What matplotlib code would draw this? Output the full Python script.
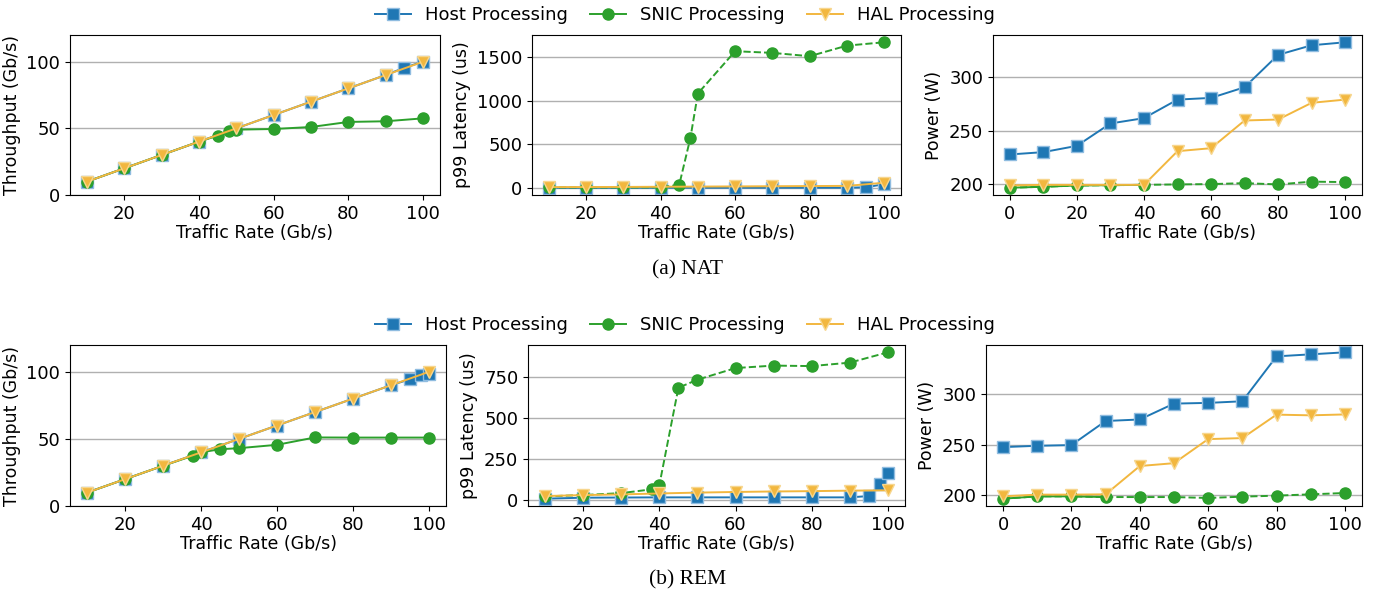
import numpy as np
import matplotlib
matplotlib.use("Agg")
import matplotlib.pyplot as plt

plt.rcParams['font.size'] = 12.5

blue = '#1f77b4'
green = '#2ca02c'
yellow = '#f2b73f'

# ---- NAT ----
nat_tp_host_x = [10, 20, 30, 40, 50, 60, 70, 80, 90, 95, 100]
nat_tp_host_y = [10, 20, 30, 40, 50, 60, 70, 80, 90, 95.5, 100]
nat_tp_snic_x = [10, 20, 30, 40, 45, 48, 50, 60, 70, 80, 90, 100]
nat_tp_snic_y = [10, 20, 30, 40, 44.5, 47.7, 49, 49.5, 51, 54.8, 55.3, 57.5]
nat_tp_hal_x = [10, 20, 30, 40, 50, 60, 70, 80, 90, 100]
nat_tp_hal_y = [10, 20, 30, 40, 50, 60, 70, 80, 90, 100]

nat_lat_host_x = [10, 20, 30, 40, 50, 60, 70, 80, 90, 95, 100]
nat_lat_host_y = [5, 5, 5, 5, 5, 5, 5, 5, 5, 10, 45]
nat_lat_snic_x = [10, 20, 30, 40, 45, 48, 50, 60, 70, 80, 90, 100]
nat_lat_snic_y = [8, 8, 8, 10, 38, 574, 1080, 1563, 1544, 1506, 1627, 1665]
nat_lat_hal_x = [10, 20, 30, 40, 50, 60, 70, 80, 90, 100]
nat_lat_hal_y = [12, 13, 14, 16, 18, 20, 22, 24, 26, 62]

nat_pw_x = [0, 10, 20, 30, 40, 50, 60, 70, 80, 90, 100]
nat_pw_host = [227.5, 229.7, 235.6, 256.6, 261.6, 279, 280.6, 290.6, 321, 330, 332.8]
nat_pw_snic = [196.3, 197.2, 198.4, 198.7, 199, 199.4, 199.7, 200.6, 199.4, 202, 201.6]
nat_pw_hal = [198.5, 199, 199, 199, 199, 230.6, 233.4, 259.4, 260.3, 276, 279]
nat_pw_split = 5  # SNIC solid up to here

# ---- REM ----
rem_tp_host_x = [10, 20, 30, 40, 50, 60, 70, 80, 90, 95, 98, 100]
rem_tp_host_y = [10, 20, 30, 40, 50, 60, 70, 80, 90, 94.5, 97.7, 98.7]
rem_tp_snic_x = [10, 20, 30, 38, 40, 45, 50, 60, 70, 80, 90, 100]
rem_tp_snic_y = [10, 20, 30, 37.6, 40, 42.3, 43.1, 45.6, 51.1, 51, 51, 51]
rem_tp_hal_x = [10, 20, 30, 40, 50, 60, 70, 80, 90, 100]
rem_tp_hal_y = [10, 20, 30, 40, 50, 60, 70, 80, 90, 100]

rem_lat_host_x = [10, 20, 30, 40, 50, 60, 70, 80, 90, 95, 98, 100]
rem_lat_host_y = [6, 12, 13, 14, 14, 14, 14, 14, 14, 22, 94, 165]
rem_lat_snic_x = [10, 20, 30, 38, 40, 45, 50, 60, 70, 80, 90, 100]
rem_lat_snic_y = [20, 28, 40, 63, 90, 683, 732, 803, 818, 815, 836, 899]
rem_lat_hal_x = [10, 20, 30, 40, 50, 60, 70, 80, 90, 100]
rem_lat_hal_y = [22, 28, 32, 38, 43, 47, 50, 52, 55, 57]

rem_pw_x = [0, 10, 20, 30, 40, 50, 60, 70, 80, 90, 100]
rem_pw_host = [247.7, 249, 249.7, 273.5, 275, 290.7, 291.4, 293, 337.4, 339.4, 341.4]
rem_pw_snic = [196.7, 199, 199, 198.3, 198.3, 198.3, 197.4, 198.7, 199.7, 201, 202.3]
rem_pw_hal = [199, 200.7, 200.7, 201, 229, 231.8, 255.6, 256.6, 279.8, 279.1, 280]
rem_pw_split = 4

fig = plt.figure(figsize=(13.85, 5.98), dpi=100)
W, H = 1385.0, 598.0


def make_ax(l, r, t, b):
    return fig.add_axes([l / W, 1 - b / H, (r - l) / W, (b - t) / H])


ms = 8
kw = dict(markersize=ms, markeredgewidth=1.0, linewidth=1.4)


def style(ax):
    ax.yaxis.grid(True, color='#b0b0b0', linewidth=1.0)
    ax.set_axisbelow(True)
    ax.set_xlabel('Traffic Rate (Gb/s)', labelpad=1)
    ax.tick_params(labelsize=13)


def row(top, bottom, lefts, tp, lat, pw, lat_ticks, split):
    # throughput
    ax = make_ax(lefts[0][0], lefts[0][1], top, bottom)
    ax.plot(tp[0], tp[1], color=blue, marker='s', markeredgecolor='#8fbce0', **kw)
    ax.plot(tp[2], tp[3], color=green, marker='o', markeredgecolor=green, **kw)
    ax.plot(tp[4], tp[5], color=yellow, marker='v', markeredgecolor='#f7d68e', **kw)
    ax.set_ylim(0, 120)
    ax.set_yticks([0, 50, 100])
    ax.set_xticks([20, 40, 60, 80, 100])
    ax.set_ylabel('Throughput (Gb/s)')
    style(ax)
    # latency
    ax = make_ax(lefts[1][0], lefts[1][1], top, bottom)
    ax.plot(lat[0], lat[1], color=blue, marker='s', markeredgecolor='#8fbce0', **kw)
    ax.plot(lat[2], lat[3], color=green, marker='o', linestyle='--', markeredgecolor=green, **kw)
    ax.plot(lat[4], lat[5], color=yellow, marker='v', markeredgecolor='#f7d68e', **kw)
    ax.set_yticks(lat_ticks)
    ax.set_xticks([20, 40, 60, 80, 100])
    ax.set_ylabel('p99 Latency (us)')
    style(ax)
    # power
    ax = make_ax(lefts[2][0], lefts[2][1], top, bottom)
    ax.plot(pw[0], pw[1], color=blue, marker='s', markeredgecolor='#8fbce0', label='Host Processing', **kw)
    ax.plot(pw[0], pw[2], color=green, marker='o', linestyle='--', markeredgecolor=green, label='SNIC Processing', **kw)
    ax.plot(pw[0][:split], pw[2][:split], color=green, linewidth=1.4)
    ax.plot(pw[0], pw[3], color=yellow, marker='v', markeredgecolor='#f7d68e', label='HAL Processing', **kw)
    ax.set_yticks([200, 250, 300])
    ax.set_xticks([0, 20, 40, 60, 80, 100])
    ax.set_ylabel('Power (W)')
    style(ax)
    h, l = ax.get_legend_handles_labels()
    h = [h[0], h[1], h[2]]
    h[1] = plt.Line2D([], [], color=green, marker='o', markersize=ms, linewidth=1.4)
    fig.legend(h, l, loc='center', bbox_to_anchor=(685 / W, 1 - (top - 20) / H),
               ncol=3, frameon=False, fontsize=13, columnspacing=1.2, handlelength=2.0)


row(35, 195, [(70, 440), (532, 901), (993, 1362)],
    (nat_tp_host_x, nat_tp_host_y, nat_tp_snic_x, nat_tp_snic_y, nat_tp_hal_x, nat_tp_hal_y),
    (nat_lat_host_x, nat_lat_host_y, nat_lat_snic_x, nat_lat_snic_y, nat_lat_hal_x, nat_lat_hal_y),
    (nat_pw_x, nat_pw_host, nat_pw_snic, nat_pw_hal), [0, 500, 1000, 1500], nat_pw_split)

row(345, 506, [(70, 446), (528, 905), (986, 1362)],
    (rem_tp_host_x, rem_tp_host_y, rem_tp_snic_x, rem_tp_snic_y, rem_tp_hal_x, rem_tp_hal_y),
    (rem_lat_host_x, rem_lat_host_y, rem_lat_snic_x, rem_lat_snic_y, rem_lat_hal_x, rem_lat_hal_y),
    (rem_pw_x, rem_pw_host, rem_pw_snic, rem_pw_hal), [0, 250, 500, 750], rem_pw_split)

fig.text(688 / W, 1 - 270 / H, '(a) NAT', ha='center', va='center',
         family='Liberation Serif', fontsize=15.5)
fig.text(688 / W, 1 - 580 / H, '(b) REM', ha='center', va='center',
         family='Liberation Serif', fontsize=15.5)

fig.savefig('out.png', dpi=100)
